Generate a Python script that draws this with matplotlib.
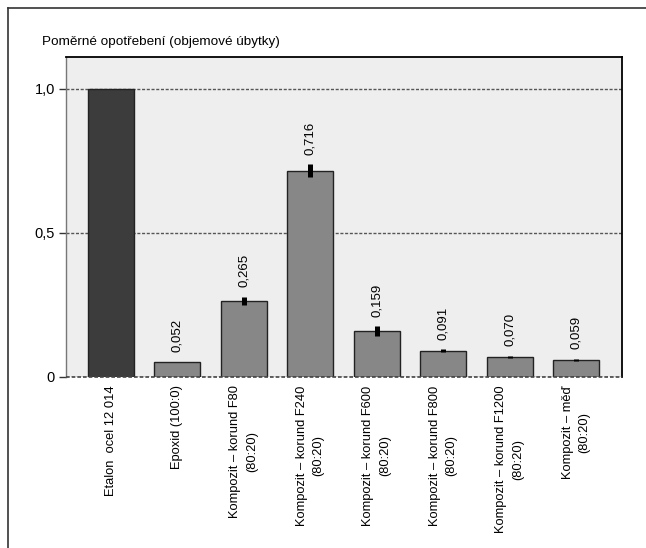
import matplotlib
matplotlib.use('Agg')
import matplotlib.pyplot as plt
from matplotlib.lines import Line2D

plt.rcParams['font.family'] = ['Liberation Sans', 'DejaVu Sans']

labels = ['Etalon  ocel 12 014',
          'Epoxid (100:0)',
          'Kompozit – korund F80\n(80:20)',
          'Kompozit – korund F240\n(80:20)',
          'Kompozit – korund F600\n(80:20)',
          'Kompozit – korund F800\n(80:20)',
          'Kompozit – korund F1200\n(80:20)',
          'Kompozit – měď\n(80:20)']
values = [1.0, 0.052, 0.265, 0.716, 0.159, 0.091, 0.070, 0.059]
errors = [0, 0, 0.014, 0.022, 0.017, 0.005, 0.004, 0.003]
value_text = ['', '0,052', '0,265', '0,716', '0,159', '0,091', '0,070', '0,059']
colors = ['#3c3c3c'] + ['#878787'] * 7

fig = plt.figure(figsize=(6.46, 5.48), dpi=100)
ax = fig.add_axes([66 / 646, 1 - 377 / 548, 556 / 646, 320 / 548])
ax.set_facecolor('#edeeed')

x = range(len(values))
ax.bar(x, values, width=0.69, color=colors, edgecolor='#222222', linewidth=1.0, zorder=3)

for i in x:
    if errors[i] > 0:
        ax.plot([i, i], [values[i] - errors[i], values[i] + errors[i]],
                color='black', linewidth=3.6, solid_capstyle='butt', zorder=4)
    if value_text[i]:
        ax.annotate(value_text[i], (i, values[i] + errors[i]), xytext=(0, 7),
                    textcoords='offset points', rotation=90, ha='center', va='bottom',
                    fontsize=9.5)

ax.set_xlim(-0.67, 7.69)
ax.set_ylim(0, 1.111)
ax.set_yticks([0, 0.5, 1.0])
ax.set_yticklabels(['0', '0,5', '1,0'], fontsize=10.5)
ax.set_xticks(list(x))
ax.set_xticklabels(labels, rotation=90, ha='center', va='top', multialignment='center',
                   fontsize=9.3, linespacing=1.5)
ax.tick_params(axis='x', length=0, pad=6)
ax.tick_params(axis='y', length=5, width=1, pad=3, color='#333333')

ax.yaxis.grid(True, linestyle=(0, (2.2, 1.2)), color='#555555', linewidth=1.0, zorder=1)
ax.set_axisbelow(True)
ax.spines['bottom'].set_visible(False)
ax.spines['top'].set_linewidth(1.3)
ax.spines['right'].set_linewidth(1.3)
ax.spines['left'].set_color('#777777')
ax.spines['left'].set_linewidth(1.0)
ax.axhline(0, color='#444444', linestyle=(0, (2.2, 1.2)), linewidth=1.2, zorder=5, clip_on=False)

fig.text(42 / 646, 1 - 42 / 548, 'Poměrné opotřebení (objemové úbytky)', fontsize=9.7,
         ha='left', va='center')

# outer frame (top and left edges)
fig.add_artist(Line2D([8 / 646, 1.0], [1 - 8 / 548, 1 - 8 / 548], color='#333333', linewidth=1.2,
                      transform=fig.transFigure))
fig.add_artist(Line2D([8 / 646, 8 / 646], [0, 1 - 8 / 548], color='#333333', linewidth=1.2,
                      transform=fig.transFigure))

fig.savefig('out.png', dpi=100, facecolor='white')
